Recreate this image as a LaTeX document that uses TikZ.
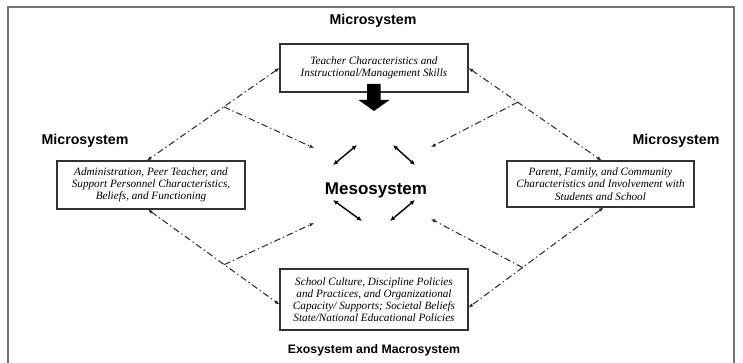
\documentclass[tikz,border=0pt]{standalone}
\usepackage{fontspec}
\setmainfont{Liberation Serif}
\newfontfamily\headfont{Liberation Sans}
\usetikzlibrary{arrows.meta,shadows,calc}

\begin{document}
\begin{tikzpicture}[x=1pt,y=-1pt,
  sysbox/.style={draw=black!80,line width=1.1pt,fill=white,
    minimum width=188pt,minimum height=48pt,inner sep=1pt,align=center,
    font=\fontsize{11.2}{12.2}\selectfont\itshape,
    drop shadow={shadow xshift=1.2pt,shadow yshift=-1.2pt,fill=black!45,opacity=0.7}},
  syslabel/.style={font=\headfont\bfseries\fontsize{14.2}{16}\selectfont},
  link/.style={draw=black!85,line width=1pt,
    dash pattern=on 6.5pt off 3pt on 1.3pt off 3pt,
    {Latex[length=4.5pt,width=3.8pt]}-{Latex[length=4.5pt,width=3.8pt]}},
  feed/.style={draw=black!85,line width=1pt,
    dash pattern=on 6.5pt off 3pt on 1.3pt off 3pt,
    -{Latex[length=4.5pt,width=3.8pt]}},
  meso/.style={draw=black,line width=1.4pt,
    {Latex[length=5pt,width=4.5pt]}-{Latex[length=5pt,width=4.5pt]}}]

% page extent and outer frame
\useasboundingbox (0,0) rectangle (743,363);
\draw[black!55,line width=1.2pt] (8,380) -- (8,7) -- (734,7) -- (734,380);

% system boxes
\node[sysbox] (top) at (374,68) {Teacher Characteristics and\\Instructional/Management Skills};
\node[sysbox] (lb) at (151,185) {Administration, Peer Teacher, and\\Support Personnel Characteristics,\\Beliefs, and Functioning};
\node[sysbox,minimum width=187pt,minimum height=46pt] (rb) at (600.5,184) {Parent, Family, and Community\\Characteristics and Involvement with\\Students and School};
\node[sysbox,minimum height=61pt] (bb) at (374,299.5) {School Culture, Discipline Policies\\and Practices, and Organizational\\Capacity/ Supports; Societal Beliefs\\State/National Educational Policies};

% level labels
\node[syslabel] (ltop) at (373,21) {Microsystem};
\node[syslabel] (lleft) at (85,141) {Microsystem};
\node[syslabel] (lright) at (676,141) {Microsystem};
\node[font=\headfont\bfseries\fontsize{12.3}{14}\selectfont] (lbot) at (374,350) {Exosystem and Macrosystem};
\node[font=\headfont\bfseries\fontsize{17}{19}\selectfont] (meso) at (376,190) {Mesosystem};

% heavy arrow from the teacher box
\fill[black] (367,84) -- (380.5,84) -- (380.5,100) -- (389.5,100)
  -- (374,111) -- (358.5,100) -- (367,100) -- cycle;

% targets of the feeder lines around the mesosystem
\coordinate (m1) at (314,148);
\coordinate (m2) at (431,147);
\coordinate (m3) at (314,223);
\coordinate (m4) at (431,219);

% links between neighbouring systems
\draw[link] (top.west) -- ([xshift=-4pt]lb.north)
  coordinate[pos=0.42] (s1);
\draw[link] (top.east) -- ([xshift=1pt]rb.north)
  coordinate[pos=0.37] (s2);
\draw[link] ([xshift=-3pt]lb.south) -- ([yshift=-5pt]bb.west)
  coordinate[pos=0.58] (s3);
\draw[link] ([xshift=3pt]rb.south) -- ([yshift=-8pt]bb.east)
  coordinate[pos=0.6] (s4);

% feeders into the mesosystem
\draw[feed] (s1) -- (m1);
\draw[feed] (s2) -- (m2);
\draw[feed] (s3) -- (m3);
\draw[feed] (s4) -- (m4);

% two-way arrows round the mesosystem label
\coordinate (a1) at (357,145); \coordinate (b1) at (333,165);
\coordinate (a2) at (393,145); \coordinate (b2) at (415,165);
\coordinate (a3) at (333,200); \coordinate (b3) at (362,221);
\coordinate (a4) at (415,200); \coordinate (b4) at (390,221);
\draw[meso] (a1) -- (b1);
\draw[meso] (a2) -- (b2);
\draw[meso] (a3) -- (b3);
\draw[meso] (a4) -- (b4);
\end{tikzpicture}
\end{document}
